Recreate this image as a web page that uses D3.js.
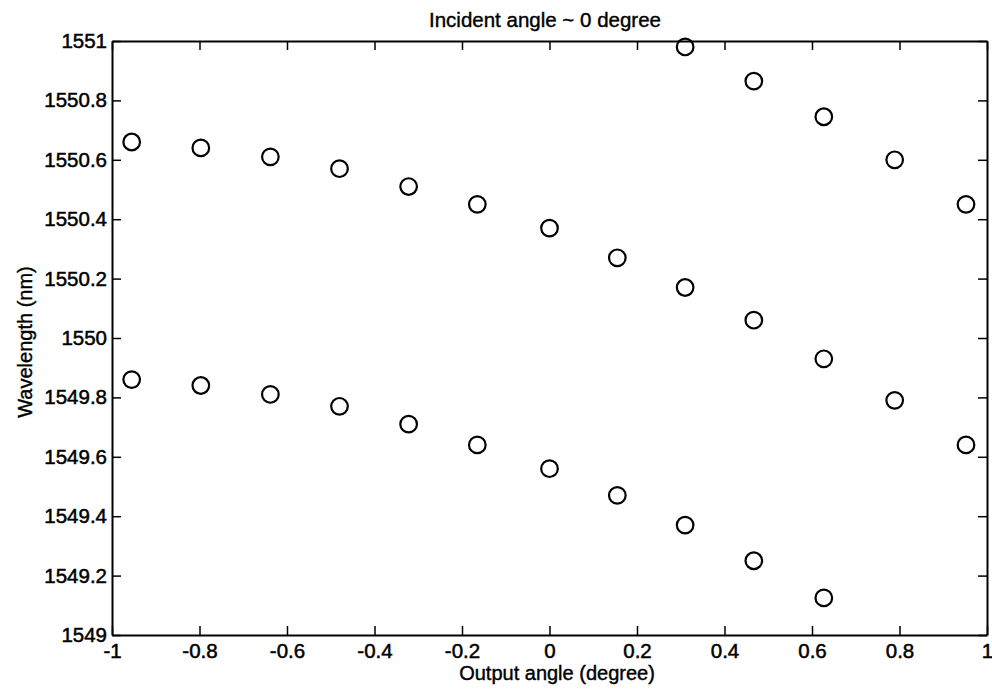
<!DOCTYPE html>
<html>
<head>
<meta charset="utf-8">
<script src="https://cdn.jsdelivr.net/npm/d3@7"></script>
<style>
  body { margin: 0; background: #fff; }
  text { font-family: "Liberation Sans", Arial, sans-serif; fill: #000; }
</style>
</head>
<body>
<div id="chart"></div>
<script>
// output angles (degree), shared by all three series
const angles = [-0.955, -0.797, -0.638, -0.480, -0.322, -0.165, 0, 0.155, 0.310, 0.467, 0.627, 0.789, 0.952];
// wavelength (nm) per series
const orderTop = [1550.98, 1550.865, 1550.745, 1550.60, 1550.45];          // angles 0.31 .. 0.95
const orderMid = [1550.66, 1550.64, 1550.61, 1550.57, 1550.51, 1550.45, 1550.37,
                  1550.27, 1550.17, 1550.06, 1549.93, 1549.79, 1549.64];   // all angles
const orderLow = [1549.86, 1549.84, 1549.81, 1549.77, 1549.71, 1549.64, 1549.56,
                  1549.47, 1549.37, 1549.25, 1549.125];                     // angles -0.95 .. 0.63
const xTicks = [-1, -0.8, -0.6, -0.4, -0.2, 0, 0.2, 0.4, 0.6, 0.8, 1];
const yTicks = [1549, 1549.2, 1549.4, 1549.6, 1549.8, 1550, 1550.2, 1550.4, 1550.6, 1550.8, 1551];

const W = 992, H = 692;
const margin = { top: 41, right: 5, bottom: 57, left: 112 };
const width = W - margin.left - margin.right;
const height = H - margin.top - margin.bottom;

const svg = d3.select("#chart").append("svg")
  .attr("width", W)
  .attr("height", H);
const g = svg.append("g")
  .attr("transform", "translate(" + margin.left + "," + margin.top + ")");

const x = d3.scaleLinear().domain([-1, 1]).range([0, width]);
const y = d3.scaleLinear().domain([1549, 1551]).range([height, 0]);

const fmt = d => String(+d.toFixed(1));

// matlab style box: inward ticks on all 4 sides
function styleAxis(sel) {
  sel.select(".domain").attr("stroke", "#000").attr("stroke-width", 2);
  sel.selectAll(".tick line").attr("stroke", "#000").attr("stroke-width", 1.5);
  sel.selectAll(".tick text")
    .style("font-size", "20.5px")
    .attr("stroke", "#000").attr("stroke-width", 0.5);
}

g.append("g")
  .attr("transform", "translate(0," + height + ")")
  .call(d3.axisBottom(x).tickValues(xTicks).tickFormat(fmt).tickSize(-9).tickSizeOuter(0).tickPadding(8))
  .call(styleAxis);
g.append("g")
  .call(d3.axisTop(x).tickValues(xTicks).tickFormat("").tickSize(-9).tickSizeOuter(0))
  .call(styleAxis);
g.append("g")
  .call(d3.axisLeft(y).tickValues(yTicks).tickFormat(fmt).tickSize(-9).tickSizeOuter(0).tickPadding(5))
  .call(styleAxis);
g.append("g")
  .attr("transform", "translate(" + width + ",0)")
  .call(d3.axisRight(y).tickValues(yTicks).tickFormat("").tickSize(-9).tickSizeOuter(0))
  .call(styleAxis);

// points
const pts = []
  .concat(orderTop.map((v, i) => ({ a: angles[i + 8], v: v })))
  .concat(orderMid.map((v, i) => ({ a: angles[i], v: v })))
  .concat(orderLow.map((v, i) => ({ a: angles[i], v: v })));

g.selectAll(".pt")
  .data(pts)
  .enter().append("circle")
  .attr("class", "pt")
  .attr("cx", d => x(d.a))
  .attr("cy", d => y(d.v))
  .attr("r", 8.3)
  .attr("fill", "none")
  .attr("stroke", "#000")
  .attr("stroke-width", 2.2);

// titles
svg.append("text")
  .attr("x", 545).attr("y", 27)
  .attr("text-anchor", "middle")
  .style("font-size", "20.5px")
  .attr("stroke", "#000").attr("stroke-width", 0.4)
  .text("Incident angle ~ 0 degree");

svg.append("text")
  .attr("x", 557).attr("y", 680)
  .attr("text-anchor", "middle")
  .style("font-size", "20px")
  .attr("stroke", "#000").attr("stroke-width", 0.4)
  .text("Output angle (degree)");

svg.append("text")
  .attr("transform", "translate(32,342) rotate(-90)")
  .attr("text-anchor", "middle")
  .style("font-size", "20px")
  .attr("stroke", "#000").attr("stroke-width", 0.4)
  .text("Wavelength (nm)");
</script>
</body>
</html>
